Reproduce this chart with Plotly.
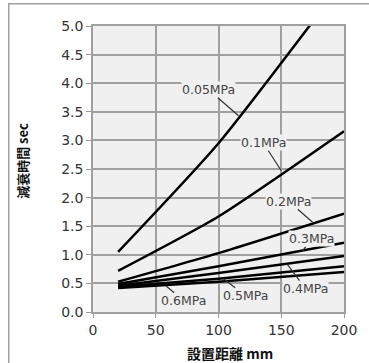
import plotly.graph_objects as go

# ---- data ----
distance_mm = [20, 100, 200]
series_labels = ["0.05MPa", "0.1MPa", "0.2MPa", "0.3MPa", "0.4MPa", "0.5MPa", "0.6MPa"]
decay_time = {
    "0.05MPa": [1.05, 2.95, 5.80],
    "0.1MPa": [0.72, 1.67, 3.16],
    "0.2MPa": [0.53, 1.03, 1.72],
    "0.3MPa": [0.49, 0.80, 1.21],
    "0.4MPa": [0.46, 0.68, 0.98],
    "0.5MPa": [0.44, 0.58, 0.80],
    "0.6MPa": [0.42, 0.53, 0.70],
}
x_ticks = [0, 50, 100, 150, 200]
y_ticks = [0.0, 0.5, 1.0, 1.5, 2.0, 2.5, 3.0, 3.5, 4.0, 4.5, 5.0]

# label anchor (on line) and text offset in px
label_pos = {
    "0.05MPa": (116, 3.43, -30, -26),
    "0.1MPa": (150, 2.47, -18, -28),
    "0.2MPa": (175, 1.57, -24, -21),
    "0.3MPa": (167, 1.07, 9, -12),
    "0.4MPa": (155, 0.83, 18, 24),
    "0.5MPa": (104, 0.58, 22, 17),
    "0.6MPa": (58, 0.46, 18, 15),
}

W, H = 369, 363
L, R, T, B = 93, 22, 26, 51
PW, PH = W - L - R, H - T - B

fig = go.Figure()
for name in series_labels:
    fig.add_trace(go.Scatter(
        x=distance_mm, y=decay_time[name], mode="lines", name=name,
        line=dict(color="black", width=2.5, shape="spline", smoothing=0.6),
        showlegend=False, hoverinfo="skip",
    ))

for name in series_labels:
    x, y, ax, ay = label_pos[name]
    fig.add_annotation(
        x=x, y=y, ax=ax, ay=ay, text=name, showarrow=True, arrowhead=0,
        arrowwidth=1.2, arrowcolor="#333333", standoff=0, startstandoff=0,
        font=dict(family="DejaVu Sans", size=12.5, color="#444444"),
        bgcolor="#f0f0f0", borderpad=0,
    )

# axis titles
fig.add_annotation(xref="paper", yref="paper", x=(22 - L) / PW, y=(H - B - 161) / PH,
                   xanchor="center", yanchor="middle",
                   text="<b>減衰時間 sec</b>", showarrow=False, textangle=-90,
                   font=dict(family="Noto Sans CJK JP", size=13, color="#111111"))
fig.add_annotation(xref="paper", yref="paper", x=(232 - L) / PW, y=(H - B - 353) / PH,
                   xanchor="center", yanchor="middle",
                   text="<b>設置距離 mm</b>", showarrow=False,
                   font=dict(family="Noto Sans CJK JP", size=14, color="#111111"))

# outer frame: an empty bordered box whose left and top edges fall inside the page
fig.add_annotation(xref="paper", yref="paper", x=(7 - L) / PW, y=1 + (T - 3) / PH,
                   xanchor="left", yanchor="top", text=" ", showarrow=False,
                   width=420, height=420, bordercolor="#a0a0a0", borderwidth=1.5,
                   borderpad=0, bgcolor="rgba(0,0,0,0)")

axis_font = dict(family="DejaVu Sans", size=14, color="#333333")
fig.update_layout(
    width=W, height=H,
    margin=dict(l=L, r=R, t=T, b=B),
    paper_bgcolor="white", plot_bgcolor="#f0f0f0",
    xaxis=dict(range=[0, 200], tickvals=x_ticks, ticks="outside", ticklen=4,
               tickcolor="#999999", showgrid=True, gridcolor="#a0a0a0", gridwidth=1.5,
               showline=True, linecolor="#a0a0a0", linewidth=1.5, mirror=True,
               zeroline=False, tickfont=axis_font),
    yaxis=dict(range=[0, 5.0], tickvals=y_ticks, tickformat=".1f", ticks="outside", ticklen=5,
               tickcolor="#999999", showgrid=True, gridcolor="#a0a0a0", gridwidth=1.5,
               showline=True, linecolor="#a0a0a0", linewidth=1.5, mirror=True,
               zeroline=False, tickfont=axis_font),
)

fig.write_html("out.html", config={"displayModeBar": False},
               post_script="document.body.style.margin='0';document.body.style.overflow='hidden';")
